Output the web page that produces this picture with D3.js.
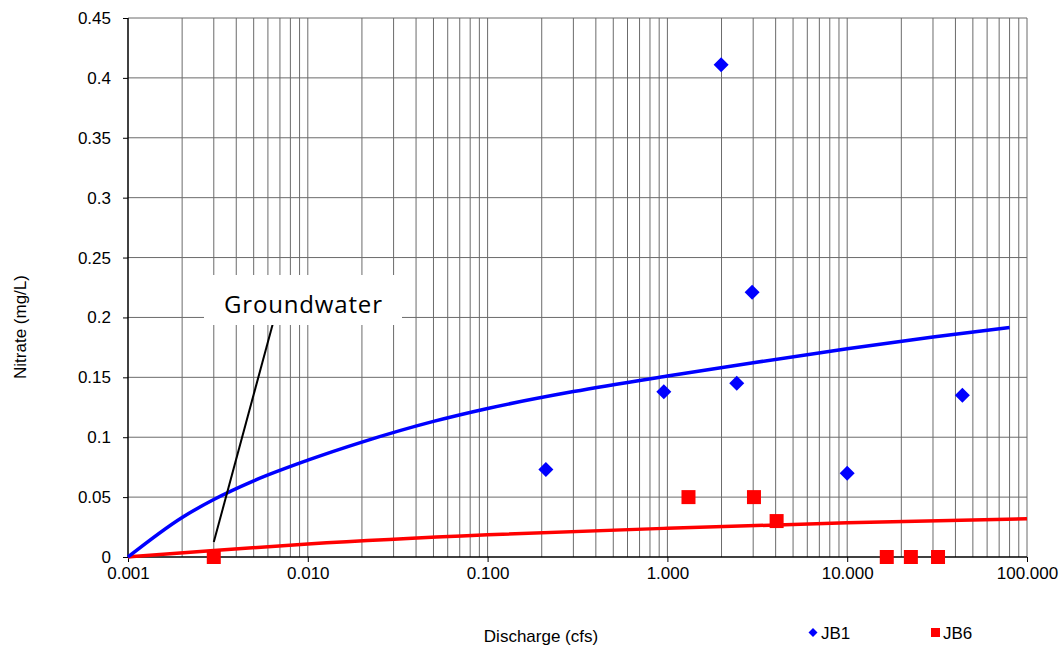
<!DOCTYPE html>
<html>
<head>
<meta charset="utf-8">
<script src="https://cdn.jsdelivr.net/npm/d3@7"></script>
<style>
  html, body { margin: 0; padding: 0; background: #fff; }
  svg { display: block; font-family: "Liberation Sans", Arial, sans-serif; }
</style>
</head>
<body>
<svg id="chart" width="1061" height="649"></svg>
<script>
// Sample sites: discharge (cfs) and nitrate (mg/L)
const jb1Discharge = [0.211, 0.955, 1.99, 2.43, 2.96, 10.0, 43.7];
const jb1Nitrate   = [0.073, 0.138, 0.411, 0.145, 0.221, 0.070, 0.135];

const jb6Discharge = [0.003, 1.31, 3.03, 4.05, 16.6, 22.6, 32.0];
const jb6Nitrate   = [0.000, 0.050, 0.050, 0.030, 0.000, 0.000, 0.000];

// Mixing curves
const jb1CurveQ = [0.001, 0.002, 0.003, 0.005, 0.01, 0.02, 0.05, 0.1, 0.3, 1, 3, 10, 30, 80];
const jb1CurveN = [0.000, 0.033, 0.048, 0.0636, 0.0808, 0.0959, 0.1132, 0.124, 0.1381, 0.1511, 0.1622, 0.1738, 0.1836, 0.1916];

const jb6CurveQ = [0.001, 0.003, 0.01, 0.1, 1, 10, 100];
const jb6CurveN = [0.000, 0.0055, 0.0108, 0.0185, 0.024, 0.0285, 0.032];

// Axis ticks
const xTicks = [0.001, 0.01, 0.1, 1, 10, 100];
const xTickLabels = ["0.001", "0.010", "0.100", "1.000", "10.000", "100.000"];
const yTicks = [0, 0.05, 0.1, 0.15, 0.2, 0.25, 0.3, 0.35, 0.4, 0.45];
const yTickLabels = ["0", "0.05", "0.1", "0.15", "0.2", "0.25", "0.3", "0.35", "0.4", "0.45"];

const svg = d3.select("#chart");
const plotLeft = 128, plotRight = 1027, plotTop = 18, plotBottom = 557;
const fontSize = 17;

const x = d3.scaleLog().domain([0.001, 100]).range([plotLeft, plotRight]);
const y = d3.scaleLinear().domain([0, 0.45]).range([plotBottom, plotTop]);

// Log grid: every 1..9 within each decade
const minor = [];
for (let e = -3; e < 2; e++) {
  for (let m = 1; m <= 9; m++) minor.push(m * Math.pow(10, e));
}
minor.push(100);

const grid = svg.append("g").attr("stroke", "#6b6b6b").attr("stroke-width", 1);
grid.selectAll("line.v").data(minor.slice(1)).join("line")
  .attr("x1", d => x(d)).attr("x2", d => x(d))
  .attr("y1", plotTop).attr("y2", plotBottom);
grid.selectAll("line.h").data(yTicks.slice(1)).join("line")
  .attr("x1", plotLeft).attr("x2", plotRight)
  .attr("y1", d => y(d)).attr("y2", d => y(d));

// Axes
const yAxis = svg.append("g")
  .attr("transform", `translate(${plotLeft},0)`)
  .call(d3.axisLeft(y).tickValues(yTicks).tickFormat((d, i) => yTickLabels[i]).tickSize(5).tickPadding(12));
const xAxis = svg.append("g")
  .attr("transform", `translate(0,${plotBottom})`)
  .call(d3.axisBottom(x).tickValues(xTicks).tickFormat((d, i) => xTickLabels[i]).tickSize(5).tickPadding(5));
[yAxis, xAxis].forEach(a => {
  a.select(".domain").attr("stroke", "#000").attr("stroke-width", 1.5);
  a.selectAll(".tick line").attr("stroke", "#000");
  a.selectAll(".tick text").attr("font-size", fontSize).attr("fill", "#000")
    .attr("font-family", "'Liberation Sans', Arial, sans-serif");
});
xAxis.select(".domain").attr("d", `M${plotLeft},0H${plotRight}`);
yAxis.select(".domain").attr("d", `M0,${plotBottom}V${plotTop}`);

// Curves
const lineGen = d3.line().x(d => x(d[0])).y(d => y(d[1])).curve(d3.curveMonotoneX);
svg.append("path")
  .datum(jb6CurveQ.map((q, i) => [q, jb6CurveN[i]]))
  .attr("d", lineGen).attr("fill", "none").attr("stroke", "#ff0000").attr("stroke-width", 3.5);
svg.append("path")
  .datum(jb1CurveQ.map((q, i) => [q, jb1CurveN[i]]))
  .attr("d", lineGen).attr("fill", "none").attr("stroke", "#0000ff").attr("stroke-width", 3.5);

// Groundwater callout
svg.append("line")
  .attr("x1", x(0.003)).attr("y1", y(0.0125))
  .attr("x2", 276).attr("y2", 312)
  .attr("stroke", "#000").attr("stroke-width", 2);
svg.append("rect")
  .attr("x", 204).attr("y", 275).attr("width", 198).attr("height", 50)
  .attr("fill", "#fff");
svg.append("text")
  .attr("x", 224).attr("y", 312.5)
  .attr("font-family", "'Open Sans', 'Noto Sans', sans-serif")
  .attr("font-size", 24).attr("fill", "#000")
  .attr("textLength", 158).attr("lengthAdjust", "spacing")
  .text("Groundwater");

// Markers
function diamondPath(s) {
  return `M0,${-s}L${s},0L0,${s}L${-s},0Z`;
}
svg.append("g").selectAll("path")
  .data(jb1Discharge.map((q, i) => [q, jb1Nitrate[i]]))
  .join("path")
  .attr("transform", d => `translate(${x(d[0])},${y(d[1])})`)
  .attr("d", diamondPath(7.5))
  .attr("fill", "#0000ff");

svg.append("g").selectAll("rect")
  .data(jb6Discharge.map((q, i) => [q, jb6Nitrate[i]]))
  .join("rect")
  .attr("x", d => x(d[0]) - 7).attr("y", d => y(d[1]) - 7)
  .attr("width", 14).attr("height", 14)
  .attr("fill", "#ff0000");

// Axis titles
svg.append("text")
  .attr("x", 541).attr("y", 642).attr("text-anchor", "middle")
  .attr("font-size", fontSize).text("Discharge (cfs)");
svg.append("text")
  .attr("transform", "translate(26,327) rotate(-90)").attr("text-anchor", "middle")
  .attr("font-size", fontSize).text("Nitrate (mg/L)");

// Legend
const legend = svg.append("g");
legend.append("path").attr("transform", "translate(813,632.5)").attr("d", diamondPath(4.5)).attr("fill", "#0000ff");
legend.append("text").attr("x", 821).attr("y", 638.5).attr("font-size", fontSize).text("JB1");
legend.append("rect").attr("x", 931).attr("y", 628).attr("width", 9).attr("height", 9).attr("fill", "#ff0000");
legend.append("text").attr("x", 943).attr("y", 638.5).attr("font-size", fontSize).text("JB6");
</script>
</body>
</html>
